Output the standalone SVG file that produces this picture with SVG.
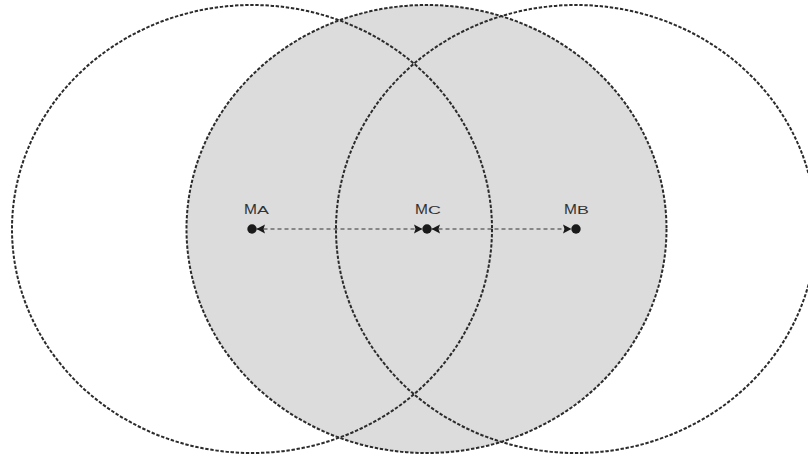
<svg xmlns="http://www.w3.org/2000/svg" width="808" height="459" viewBox="0 0 808 459">
<style>
.ring{fill:none;stroke:#2b2b2b;stroke-width:2;stroke-dasharray:3.4 1.7}
.conn{stroke:#333;stroke-width:1;stroke-dasharray:4 3;fill:none}
.dot{fill:#1a1a1a}
.lbl{font-family:"Liberation Sans",Arial,sans-serif;fill:#333;font-size:15.5px}
.sub{font-family:"Liberation Sans",Arial,sans-serif;fill:#333;font-size:10.5px}
</style>
<defs>
<marker id="ah" markerUnits="userSpaceOnUse" markerWidth="9" markerHeight="10" viewBox="0 0 9 10" refX="8.5" refY="5" orient="auto-start-reverse">
<path d="M0,0.5 L8.5,5 L0,9.5 L1.5,5 Z" fill="#1a1a1a"/>
</marker>
</defs>
<rect width="808" height="459" fill="#ffffff"/>
<g id="regionC">
<ellipse cx="426.5" cy="229" rx="240" ry="224" fill="#dcdcdc"/>
</g>
<g id="circleA">
<ellipse class="ring" cx="252" cy="229" rx="240" ry="224"/>
</g>
<g id="circleC">
<ellipse class="ring" cx="426.5" cy="229" rx="240" ry="224"/>
</g>
<g id="circleB">
<ellipse class="ring" cx="576" cy="229" rx="240" ry="224"/>
</g>
<g id="connectors">
<line class="conn" x1="256.5" y1="229" x2="422.5" y2="229" marker-start="url(#ah)" marker-end="url(#ah)"/>
<line class="conn" x1="431.5" y1="229" x2="571.5" y2="229" marker-start="url(#ah)" marker-end="url(#ah)"/>
</g>
<g id="MA">
<circle class="dot" cx="252" cy="229" r="4.7"/>
<text class="lbl" x="244" y="214">M</text>
<text class="sub" transform="translate(257,214) scale(1.7,1)">A</text>
</g>
<g id="MC">
<circle class="dot" cx="427" cy="229" r="4.7"/>
<text class="lbl" x="415" y="214">M</text>
<text class="sub" transform="translate(428,214) scale(1.7,1)">C</text>
</g>
<g id="MB">
<circle class="dot" cx="576" cy="229" r="4.7"/>
<text class="lbl" x="564" y="214">M</text>
<text class="sub" transform="translate(577,214) scale(1.7,1)">B</text>
</g>
</svg>
